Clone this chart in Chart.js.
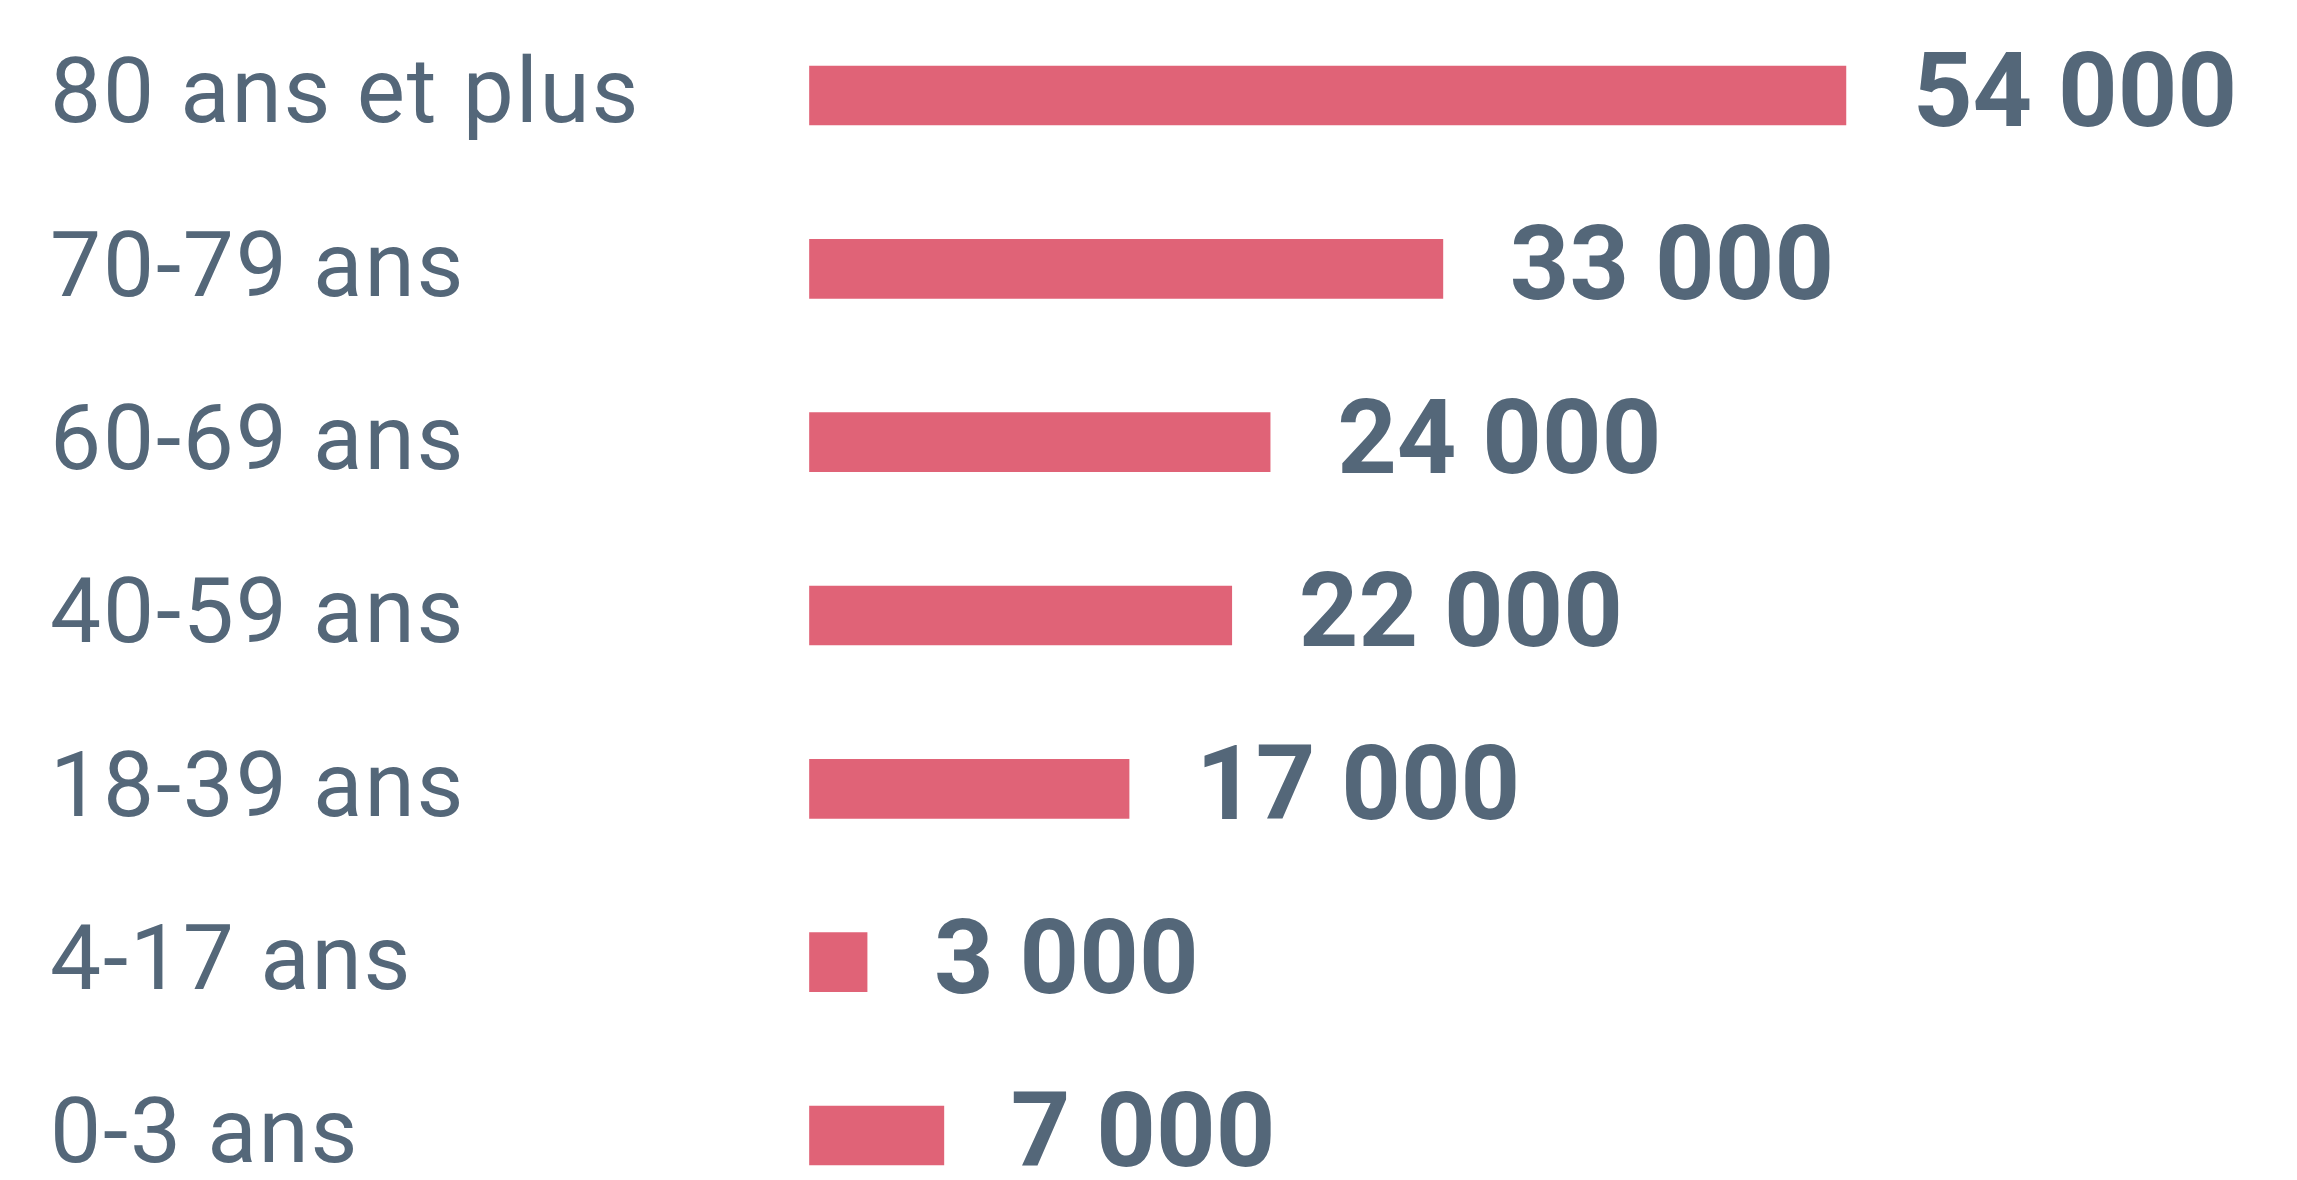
<!DOCTYPE html>
<html>
<head>
<meta charset="utf-8">
<script src="https://cdn.jsdelivr.net/npm/chart.js@4/dist/chart.umd.min.js"></script>
<style>
  html, body { margin: 0; padding: 0; background: #ffffff; }
  #wrap { width: 2297px; height: 1180px; }
</style>
</head>
<body>
<div id="wrap"><canvas id="c" width="2297" height="1180"></canvas></div>
<script>
const categories = ["80 ans et plus", "70-79 ans", "60-69 ans", "40-59 ans", "18-39 ans", "4-17 ans", "0-3 ans"];
const values = [54000, 33000, 24000, 22000, 16650, 3000, 7000];
const valueLabelsText = ["54 000", "33 000", "24 000", "22 000", "17 000", "3 000", "7 000"];
const xMin = 0;
const xMax = 70000;

const BAR_COLOR = "#E06377";
const TEXT_COLOR = "#546779";

const labelSpacing = {
  id: "labelSpacing",
  beforeDraw(chart) {
    chart.ctx.letterSpacing = "1.8px";
  }
};

const valueLabels = {
  id: "valueLabels",
  afterDatasetsDraw(chart) {
    const ctx = chart.ctx;
    const meta = chart.getDatasetMeta(0);
    ctx.save();
    ctx.letterSpacing = "0px";
    ctx.font = "bold 104px Roboto";
    ctx.fillStyle = TEXT_COLOR;
    ctx.textAlign = "left";
    ctx.textBaseline = "middle";
    meta.data.forEach((bar, i) => {
      ctx.fillText(valueLabelsText[i], bar.x + 67, bar.y + 4.5);
    });
    ctx.restore();
  }
};

new Chart(document.getElementById("c"), {
  type: "bar",
  data: {
    labels: categories,
    datasets: [{
      data: values,
      backgroundColor: BAR_COLOR,
      borderWidth: 0,
      barThickness: 59,
      clip: false
    }]
  },
  options: {
    indexAxis: "y",
    responsive: false,
    animation: false,
    layout: { padding: { left: 50, right: 144, top: 95.5, bottom: 44.5 } },
    plugins: { legend: { display: false }, tooltip: { enabled: false } },
    scales: {
      x: { display: false, min: xMin, max: xMax },
      y: {
        offset: false,
        grid: { display: false, drawTicks: false },
        border: { display: false },
        afterFit(scale) { scale.width = 759.5; },
        ticks: {
          crossAlign: "far",
          labelOffset: 4,
          color: TEXT_COLOR,
          font: { family: "Roboto", size: 91, weight: "normal", lineHeight: 0.7 }
        }
      }
    }
  },
  plugins: [labelSpacing, valueLabels]
});
</script>
</body>
</html>
